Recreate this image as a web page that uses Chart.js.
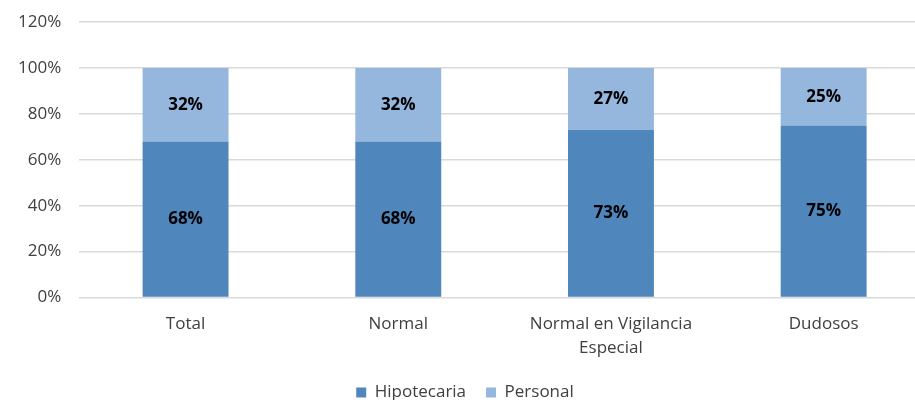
<!DOCTYPE html>
<html>
<head>
<meta charset="utf-8">
<script src="https://cdn.jsdelivr.net/npm/chart.js@4/dist/chart.umd.min.js"></script>
<style>
  html, body { margin: 0; padding: 0; overflow: hidden; background: #fff; }
  #wrap { width: 956px; height: 417px; margin-top: -6px; }
</style>
</head>
<body>
<div id="wrap"><canvas id="myChart"></canvas></div>
<script>
const categories = ["Total", "Normal", ["Normal en Vigilancia", "Especial"], "Dudosos"];
const hipotecaria = [68, 68, 73, 75];
const personal = [32, 32, 27, 25];
const yTicks = [0, 20, 40, 60, 80, 100, 120];

const font = "'Open Sans', 'Liberation Sans', sans-serif";

// labels in the middle of every bar piece
const barLabels = {
  id: "barLabels",
  afterDatasetsDraw(chart) {
    const ctx = chart.ctx;
    ctx.save();
    ctx.font = "bold 17px " + font;
    ctx.fillStyle = "#000";
    ctx.textAlign = "center";
    ctx.textBaseline = "middle";
    chart.data.datasets.forEach((ds, i) => {
      chart.getDatasetMeta(i).data.forEach((bar, j) => {
        const mid = (bar.y + bar.base) / 2;
        ctx.fillText(ds.data[j] + "%", bar.x, mid);
      });
    });
    ctx.restore();
  },
};

new Chart(document.getElementById("myChart"), {
  type: "bar",
  data: {
    labels: categories,
    datasets: [
      { label: "Hipotecaria", data: hipotecaria, backgroundColor: "#4f86bb" },
      { label: "Personal", data: personal, backgroundColor: "#95b7de" },
    ],
  },
  options: {
    responsive: true,
    maintainAspectRatio: false,
    animation: false,
    layout: { padding: { top: 0, left: 0, right: 26, bottom: 0 } },
    datasets: { bar: { categoryPercentage: 1, barPercentage: 0.404 } },
    scales: {
      x: {
        stacked: true,
        grid: { display: false },
        border: { display: false },
        afterFit: (axis) => { axis.height -= 3; },
        ticks: {
          color: "#404040",
          font: { family: font, size: 17, lineHeight: 1.4 },
          padding: 7,
          maxRotation: 0,
        },
      },
      y: {
        stacked: true,
        min: 0,
        max: 120,
        afterBuildTicks: (axis) => { axis.ticks = yTicks.map((v) => ({ value: v })); },
        grid: { color: "#d9d9d9", lineWidth: 1.5, drawTicks: false },
        border: { display: false },
        ticks: {
          color: "#404040",
          font: { family: font, size: 17 },
          padding: 18,
          callback: (v) => v + "%",
        },
      },
    },
    plugins: {
      legend: {
        position: "bottom",
        labels: {
          color: "#404040",
          font: { family: font, size: 17 },
          boxWidth: 10,
          boxHeight: 10,
          padding: 20,
        },
      },
      tooltip: { enabled: false },
    },
  },
  plugins: [barLabels],
});
</script>
</body>
</html>
